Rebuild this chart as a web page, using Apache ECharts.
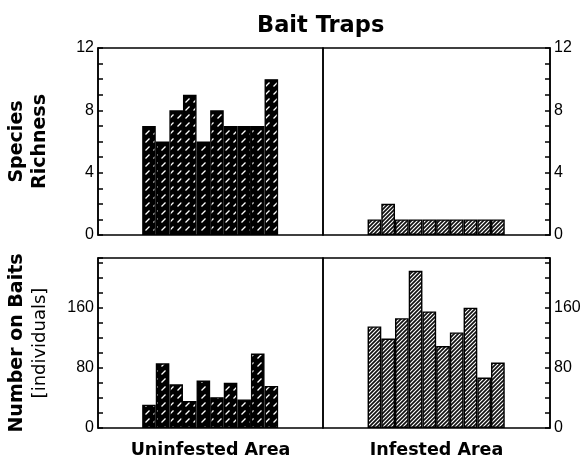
<!DOCTYPE html>
<html><head><meta charset="utf-8">
<script src="https://cdn.jsdelivr.net/npm/echarts@6/dist/echarts.min.js"></script>
<style>html,body{margin:0;padding:0;background:#fff}#c{width:587px;height:460px}</style>
</head><body><div id="c"></div>
<script>
// Data
const traps = [1,2,3,4,5,6,7,8,9,10];
const richnessUninfested = [7,6,8,9,6,8,7,7,7,10];
const richnessInfested = [1,2,1,1,1,1,1,1,1,1];
const baitsUninfested = [31,86,58,36,63,41,60,38,99,56];
const baitsInfested = [135,119,146,209,155,109,127,160,67,87];
const richnessTicks = [0,4,8,12];
const baitsTicks = [0,80,160];

function darkHatch(){
  const s = 8;
  const c = document.createElement('canvas');
  c.width = s; c.height = s;
  const g = c.getContext('2d');
  g.fillStyle = '#000';
  g.fillRect(0,0,s,s);
  g.strokeStyle = '#fff';
  g.lineWidth = 1.2;
  g.beginPath();
  g.moveTo(1.5, 6.5); g.lineTo(5.5, 2.5);
  g.stroke();
  return {image: c, repeat: 'repeat'};
}
function lightHatch(){
  const s = 4;
  const c = document.createElement('canvas');
  c.width = s; c.height = s;
  const g = c.getContext('2d');
  g.fillStyle = '#fff';
  g.fillRect(0,0,s,s);
  g.strokeStyle = '#111';
  g.lineWidth = 1.7;
  g.beginPath();
  g.moveTo(-1, s+1); g.lineTo(s+1, -1);
  g.moveTo(-1, 1); g.lineTo(1, -1);
  g.moveTo(s-1, s+1); g.lineTo(s+1, s-1);
  g.stroke();
  return {image: c, repeat: 'repeat'};
}
const darkFill = darkHatch();
const lightFill = lightHatch();

const font = 'DejaVu Sans';
const numFont = 'Liberation Sans';
const grids = [
  {left: 98, top: 48, width: 225, height: 187},
  {left: 323, top: 48, width: 227, height: 187},
  {left: 98, top: 258, width: 225, height: 170},
  {left: 323, top: 258, width: 227, height: 170}
].map(g => Object.assign(g, {show: true, borderColor: '#000', borderWidth: 1.5, backgroundColor: 'transparent'}));

function xa(i, name){
  return {gridIndex: i, type: 'value', min: -3.25, max: 13.3,
    axisLine: {show: false, onZero: false}, axisTick: {show: false}, axisLabel: {show: false}, splitLine: {show: false},
    name: name || '', nameLocation: 'middle', nameGap: 13,
    nameTextStyle: {fontFamily: font, fontWeight: 'bold', fontSize: 17.5, color: '#000'}};
}
function ya(i, pos, top, name){
  const ticks = top ? richnessTicks : baitsTicks;
  return {gridIndex: i, type: 'value', position: pos, min: 0,
    max: top ? 12 : 226, interval: top ? 1 : 20,
    axisLine: {show: true, onZero: false, lineStyle: {color: '#000', width: 1.5}},
    axisTick: {show: true, inside: true, length: 5, lineStyle: {color: '#000', width: 1.5}},
    axisLabel: {show: true, margin: 4, fontFamily: numFont, fontSize: 16, color: '#000',
      formatter: v => ticks.indexOf(v) >= 0 ? String(v) : ''},
    splitLine: {show: false},
    name: name || '', nameLocation: 'middle', nameRotate: 90, nameGap: 46,
    nameTextStyle: {fontFamily: font, fontWeight: 'bold', fontSize: 19, color: '#000', lineHeight: 23,
      rich: {b: {fontFamily: font, fontWeight: 'bold', fontSize: 19, lineHeight: 23, color: '#000'},
             n: {fontFamily: font, fontWeight: 'normal', fontSize: 18, lineHeight: 23, color: '#000'}}}};
}
function bars(i, vals, fill){
  return {type: 'bar', xAxisIndex: i, yAxisIndex: i, barWidth: '100%', barCategoryGap: '0%',
    data: traps.map((t, k) => [t - 0.5, vals[k]]),
    itemStyle: {color: fill, borderColor: '#000', borderWidth: 1.4},
    emphasis: {disabled: true}, animation: false};
}

const chart = echarts.init(document.getElementById('c'), null, {renderer: 'canvas'});
chart.setOption({
  animation: false,
  backgroundColor: '#fff',
  title: {text: 'Bait Traps', left: 252, top: 10,
    textStyle: {fontFamily: font, fontWeight: 'bold', fontSize: 22.5, color: '#000'}},
  grid: grids,
  xAxis: [xa(0), xa(1), xa(2, 'Uninfested Area'), xa(3, 'Infested Area')],
  yAxis: [ya(0, 'left', true, 'Species\nRichness'), ya(1, 'right', true),
          ya(2, 'left', false, '{b|Number on Baits}\n{n|[individuals]}'), ya(3, 'right', false)],
  series: [bars(0, richnessUninfested, darkFill), bars(1, richnessInfested, lightFill),
           bars(2, baitsUninfested, darkFill), bars(3, baitsInfested, lightFill)]
});
</script></body></html>
